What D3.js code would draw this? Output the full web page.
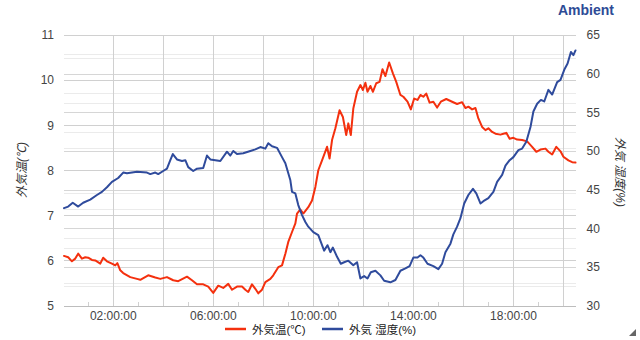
<!DOCTYPE html>
<html>
<head>
<meta charset="utf-8">
<script src="https://cdn.jsdelivr.net/npm/d3@7"></script>
<style>
  html, body { margin: 0; padding: 0; background: #fff; }
  svg text { font-family: Arial, "Liberation Sans", "Noto Sans CJK JP", sans-serif; }
</style>
</head>
<body>
<svg id="chart" width="640" height="340"></svg>
<script>
// 外気温 (°C)
const tempTimes = ['0:03','0:13','0:22','0:30','0:37','0:46','0:54','1:01','1:10','1:18','1:30','1:37','1:46','1:58','2:06','2:11','2:18','2:25','2:42','2:58','3:06','3:25','3:42','3:54','4:10','4:25','4:37','4:58','5:10','5:22','5:37','5:49','6:01','6:13','6:25','6:37','6:46','6:58','7:10','7:18','7:25','7:34','7:42','7:49','7:58','8:06','8:18','8:25','8:37','8:46','8:54','9:01','9:10','9:18','9:22','9:30','9:37','9:49','9:58','10:06','10:13','10:22','10:34','10:40','10:46','10:54','11:04','11:12','11:20','11:25','11:31','11:37','11:46','11:54','12:00','12:06','12:11','12:18','12:24','12:32','12:40','12:47','12:54','13:03','13:12','13:20','13:30','13:37','13:47','13:55','14:03','14:11','14:18','14:25','14:32','14:40','14:49','14:58','15:07','15:20','15:34','15:46','15:58','16:06','16:13','16:22','16:30','16:37','16:46','16:54','17:01','17:10','17:18','17:30','17:37','17:44','17:52','18:01','18:10','18:22','18:34','18:46','18:56','19:06','19:18','19:25','19:34','19:44','19:54','20:01','20:13','20:22','20:30'];
const tempValues = [6.10,6.07,5.98,6.04,6.15,6.04,6.07,6.06,6.01,6.00,5.93,6.06,5.98,5.93,5.89,5.94,5.78,5.72,5.63,5.59,5.57,5.67,5.62,5.59,5.63,5.56,5.54,5.64,5.56,5.47,5.47,5.42,5.28,5.44,5.39,5.48,5.35,5.42,5.42,5.35,5.30,5.47,5.37,5.27,5.35,5.52,5.59,5.67,5.85,5.89,6.15,6.41,6.63,6.82,7.04,7.13,7.04,7.18,7.33,7.63,8.00,8.22,8.52,8.26,8.67,8.93,9.33,9.18,8.78,9.04,8.78,9.37,9.74,9.89,9.78,9.94,9.74,9.87,9.74,9.93,9.96,10.24,10.09,10.39,10.15,9.96,9.67,9.63,9.52,9.35,9.59,9.56,9.67,9.63,9.70,9.50,9.52,9.39,9.52,9.58,9.52,9.47,9.51,9.38,9.41,9.35,9.38,9.15,8.96,8.89,8.93,8.85,8.81,8.79,8.81,8.83,8.70,8.72,8.68,8.67,8.64,8.52,8.41,8.46,8.48,8.41,8.35,8.52,8.42,8.30,8.22,8.18,8.17];

// 外気 湿度 (%)
const humTimes = ['0:03','0:13','0:24','0:37','0:49','1:06','1:22','1:34','1:46','1:58','2:13','2:25','2:34','2:58','3:22','3:30','3:42','3:49','4:01','4:10','4:18','4:24','4:34','4:46','4:54','5:01','5:13','5:22','5:37','5:46','5:54','6:18','6:34','6:42','6:49','6:58','7:13','7:30','7:42','7:54','8:06','8:13','8:22','8:34','8:46','8:54','9:00','9:06','9:10','9:18','9:25','9:34','9:42','9:49','10:01','10:13','10:27','10:35','10:42','10:48','10:58','11:07','11:15','11:25','11:37','11:46','11:54','12:03','12:11','12:19','12:30','12:42','12:51','13:06','13:18','13:30','13:42','13:52','14:01','14:11','14:18','14:25','14:35','14:49','15:01','15:10','15:18','15:30','15:37','15:46','15:54','16:03','16:13','16:24','16:32','16:42','16:49','17:01','17:13','17:22','17:34','17:42','17:52','18:01','18:13','18:22','18:32','18:42','18:49','18:58','19:07','19:15','19:25','19:34','19:46','19:54','20:03','20:11','20:19','20:25','20:30'];
const humValues = [42.6,42.8,43.3,42.8,43.3,43.7,44.3,44.7,45.3,46.0,46.5,47.2,47.1,47.3,47.2,47.0,47.2,47.0,47.4,47.7,48.8,49.6,48.9,48.7,48.8,47.9,47.4,47.7,47.8,49.4,48.9,48.7,49.9,49.4,50.0,49.6,49.7,50.0,50.2,50.5,50.3,51.0,50.6,50.4,49.2,48.4,47.3,46.2,44.7,44.5,43.0,41.7,40.8,40.2,39.5,39.1,37.1,37.8,36.9,37.5,36.3,35.4,35.6,35.8,35.2,35.6,33.5,33.8,33.5,34.3,34.5,33.9,33.2,33.0,33.3,34.5,34.8,35.1,36.2,36.2,36.5,36.2,35.4,35.1,34.7,35.4,36.9,38.0,39.2,40.2,41.3,43.2,44.3,45.1,44.5,43.2,43.5,43.9,44.7,46.0,46.9,48.1,48.8,49.2,50.1,50.3,51.2,53.1,55.1,56.1,56.6,56.4,57.9,57.3,58.9,59.2,60.5,61.3,62.8,62.4,63.0];

const leftTicks = [5, 6, 7, 8, 9, 10, 11];
const rightTicks = [30, 35, 40, 45, 50, 55, 60, 65];
const seriesNames = ['外気温(℃)', '外気 湿度(%)'];
const seriesColors = ['#f4300e', '#2f4b9c'];

const parseTime = d3.timeParse('%H:%M');
const tempData = tempTimes.map((t, i) => ({time: parseTime(t), value: tempValues[i]}));
const humData = humTimes.map((t, i) => ({time: parseTime(t), value: humValues[i]}));

const svg = d3.select('#chart');
const plotLeft = 64, plotRight = 575.5, plotTop = 35, plotBottom = 305.5;

let allTimes = tempData.concat(humData).map(d => d.time);
let xscale = d3.scaleTime().domain(d3.extent(allTimes)).range([plotLeft, plotRight]);
let yLeft = d3.scaleLinear().domain([5, 11]).range([plotBottom, plotTop]);
let yRight = d3.scaleLinear().domain([30, 65]).range([plotBottom, plotTop]);

function hline(g, y, color){
    let yy = Math.round(y) + 0.5;
    g.append('line').attr('x1', plotLeft).attr('x2', plotRight)
        .attr('y1', yy).attr('y2', yy).attr('stroke', color);
}

// minor horizontal gridlines (half steps of each axis)
let grid = svg.append('g').attr('shape-rendering', 'crispEdges');
d3.range(5.5, 11, 1).forEach(v => hline(grid, yLeft(v), '#ebebeb'));
d3.range(32.5, 65, 5).forEach(v => hline(grid, yRight(v), '#ebebeb'));
// major horizontal gridlines
rightTicks.forEach(v => hline(grid, yRight(v), '#d6d6d6'));
leftTicks.forEach(v => hline(grid, yLeft(v), '#d0d0d0'));

// vertical gridlines every 2 hours, minor ticks on odd hours
let hourTicks = xscale.ticks(d3.timeHour.every(1));
hourTicks.forEach(t => {
    let x = Math.round(xscale(t)) + 0.5;
    if(t.getHours() % 2 == 0){
        grid.append('line').attr('x1', x).attr('x2', x).attr('y1', plotTop).attr('y2', plotBottom)
            .attr('stroke', '#d0d0d0');
    }
    else{
        grid.append('line').attr('x1', x).attr('x2', x).attr('y1', plotBottom - 4).attr('y2', plotBottom)
            .attr('stroke', '#d0d0d0');
    }
});
// baseline
hline(grid, yLeft(5), '#bdbdbd');

// axes
let timeFormat = d3.timeFormat('%H:%M:%S');
let xaxis = d3.axisBottom(xscale)
    .tickValues(hourTicks.filter(t => t.getHours() % 4 == 2))
    .tickFormat(timeFormat).tickSize(0).tickPadding(6);
let yaxisL = d3.axisLeft(yLeft).tickValues(leftTicks).tickFormat(d3.format('d'))
    .tickSize(0).tickPadding(10);
let yaxisR = d3.axisRight(yRight).tickValues(rightTicks).tickFormat(d3.format('d'))
    .tickSize(0).tickPadding(11);

[svg.append('g').attr('transform', 'translate(0,' + plotBottom + ')').call(xaxis),
 svg.append('g').attr('transform', 'translate(' + plotLeft + ',0)').call(yaxisL),
 svg.append('g').attr('transform', 'translate(' + plotRight + ',0)').call(yaxisR)
].forEach(g => {
    g.select('.domain').remove();
    g.selectAll('text').attr('fill', '#444').style('font-size', '12px');
});

// lines
let lineL = d3.line().x(d => xscale(d.time)).y(d => yLeft(d.value));
let lineR = d3.line().x(d => xscale(d.time)).y(d => yRight(d.value));
svg.append('path').datum(tempData)
    .attr('fill', 'none').attr('stroke', seriesColors[0]).attr('stroke-width', 2)
    .attr('stroke-linejoin', 'round').attr('stroke-linecap', 'round')
    .attr('d', lineL);
svg.append('path').datum(humData)
    .attr('fill', 'none').attr('stroke', seriesColors[1]).attr('stroke-width', 2)
    .attr('stroke-linejoin', 'round').attr('stroke-linecap', 'round')
    .attr('d', lineR);

// axis titles
svg.append('text').attr('transform', 'translate(26,170) rotate(-90)')
    .attr('text-anchor', 'middle').attr('fill', '#333').style('font-size', '12px')
    .style('font-style', 'italic').text(seriesNames[0]);
svg.append('text').attr('transform', 'translate(616,172) rotate(90)')
    .attr('text-anchor', 'middle').attr('fill', '#333').style('font-size', '12px')
    .style('font-style', 'italic').text(seriesNames[1]);

// legend
let legendX = [225, 322];
seriesNames.forEach((name, i) => {
    svg.append('line').attr('x1', legendX[i]).attr('x2', legendX[i] + 21)
        .attr('y1', 329).attr('y2', 329)
        .attr('stroke', seriesColors[i]).attr('stroke-width', 2.5);
    svg.append('text').attr('x', legendX[i] + 27).attr('y', 333.5)
        .attr('fill', '#222').style('font-size', '11.5px').text(name);
});

// title
svg.append('text').attr('x', 614).attr('y', 15).attr('text-anchor', 'end')
    .attr('fill', '#2d4b96').style('font-size', '14px').style('font-weight', 'bold')
    .text('Ambient');

// resize grip
svg.append('path').attr('d', 'M636,329 L636,336 L629,336 Z').attr('fill', '#666');
</script>
</body>
</html>
